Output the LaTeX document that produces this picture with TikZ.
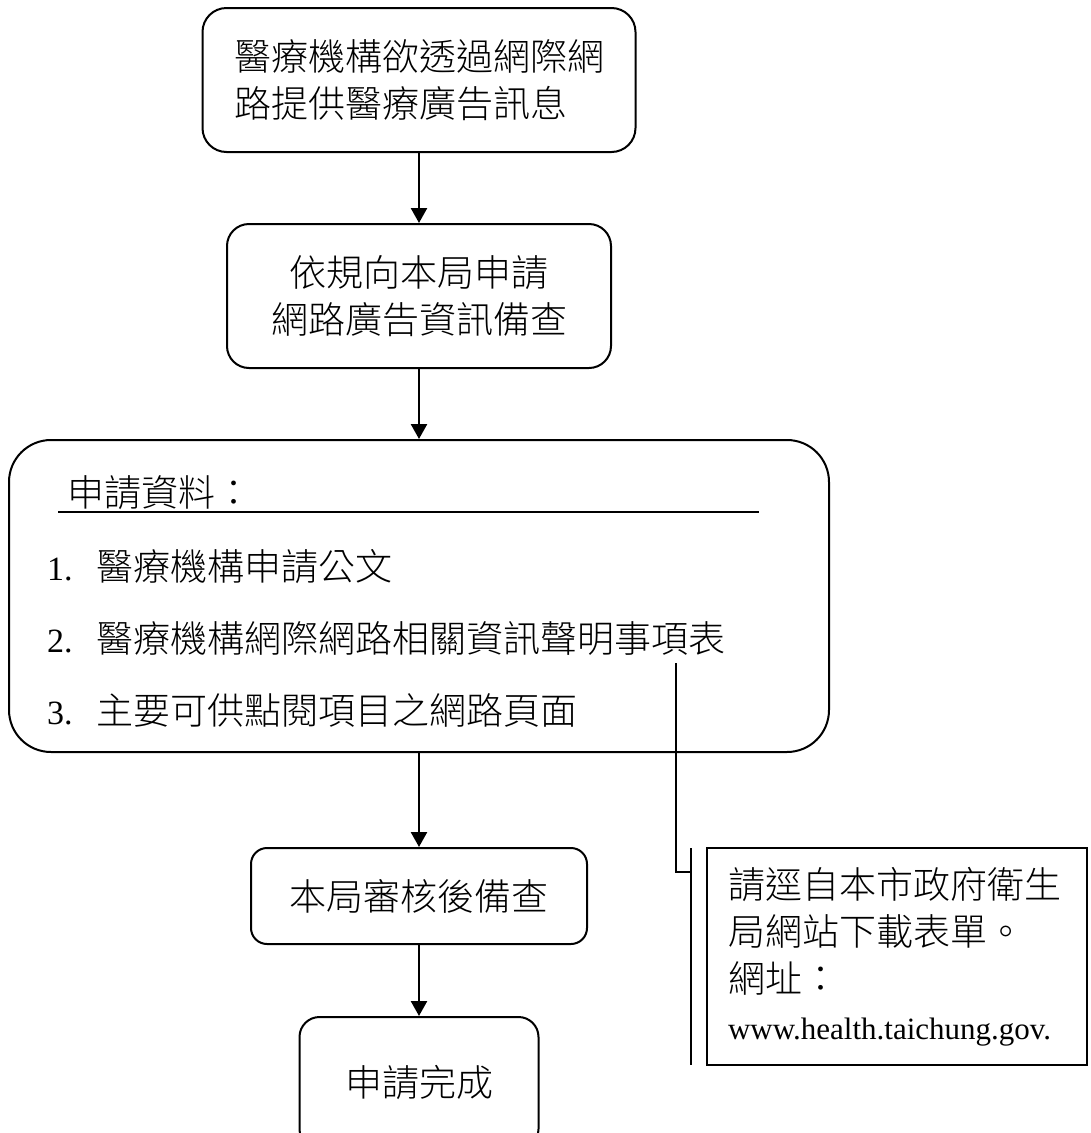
\documentclass[tikz,border=0pt]{standalone}
\usepackage{fontspec}
\setmainfont{Noto Sans CJK TC Light}
\newfontfamily\tnr{Liberation Serif}
\usetikzlibrary{arrows.meta}
\newcommand\listno[1]{\makebox[49pt][l]{\tnr\fontsize{34}{47}\selectfont #1}}

\begin{document}
\begin{tikzpicture}[x=1pt,y=-1pt,
    box/.style ={rectangle, draw, line width=2pt, font=\fontsize{37}{47}\selectfont},
    entry/.style ={anchor=west, inner sep=0pt, font=\fontsize{37}{47}\selectfont},
    link/.style ={line width=2.5pt, -{Triangle[length=15pt,width=16pt]}},
    callout/.style ={line width=1.5pt}]
   \useasboundingbox (0,0) rectangle (1091,1133);

   \node[box, rounded corners=24pt, minimum width=433pt, minimum height=144pt, align=left] (start) at (419,80) {醫療機構欲透過網際網\\路提供醫療廣告訊息};
   \node[box, rounded corners=22pt, minimum width=384pt, minimum height=144pt, align=center] (apply) at (419,296) {依規向本局申請\\網路廣告資訊備查};
   \node[box, rounded corners=42pt, minimum width=820pt, minimum height=312pt] (docs) at (419,596) {};
   \node[box, rounded corners=16pt, minimum width=336pt, minimum height=96pt] (review) at (419,896) {本局審核後備查};
   \node[box, rounded corners=20pt, minimum width=239pt, minimum height=132pt] (done) at (419,1083) {申請完成};

   % contents of the documents box
   \node[entry] (head) at (67,493) {申請資料：};
   \coordinate (u1) at (58,512);
   \coordinate (u2) at (759,512);
   \draw[callout] (u1) to (u2);
   \node[entry] (item1) at (47,567) {\listno{1.}醫療機構申請公文};
   \node[entry] (item2) at (47,638) {\listno{2.}醫療機構網際網路相關資訊聲明事項表};
   \node[entry] (item3) at (47,710) {\listno{3.}主要可供點閱項目之網路頁面};

   % note on the form
   \node[rectangle, draw, callout, minimum width=380pt, minimum height=217pt, inner xsep=21pt, text width=338pt, align=left, font=\fontsize{37}{47}\selectfont] (note) at (897,956.5) {請逕自本市政府衛生\\局網站下載表單。\\網址：\\{\tnr\fontsize{31}{47}\selectfont www.health.taichung.gov.}};
   \coordinate (c0) at (676,663);
   \coordinate (c1) at (676,872);
   \coordinate (c2) at (691,872);
   \coordinate (k1) at (691,848);
   \coordinate (k2) at (691,1065);
   \draw[callout] (c0) -- (c1) -- (c2);
   \draw[callout] (k1) -- (k2);

   \draw[link] (start) to (apply);
   \draw[link] (apply) to (docs);
   \draw[link] (docs) to (review);
   \draw[link] (review) to (done);
\end{tikzpicture}
\end{document}
